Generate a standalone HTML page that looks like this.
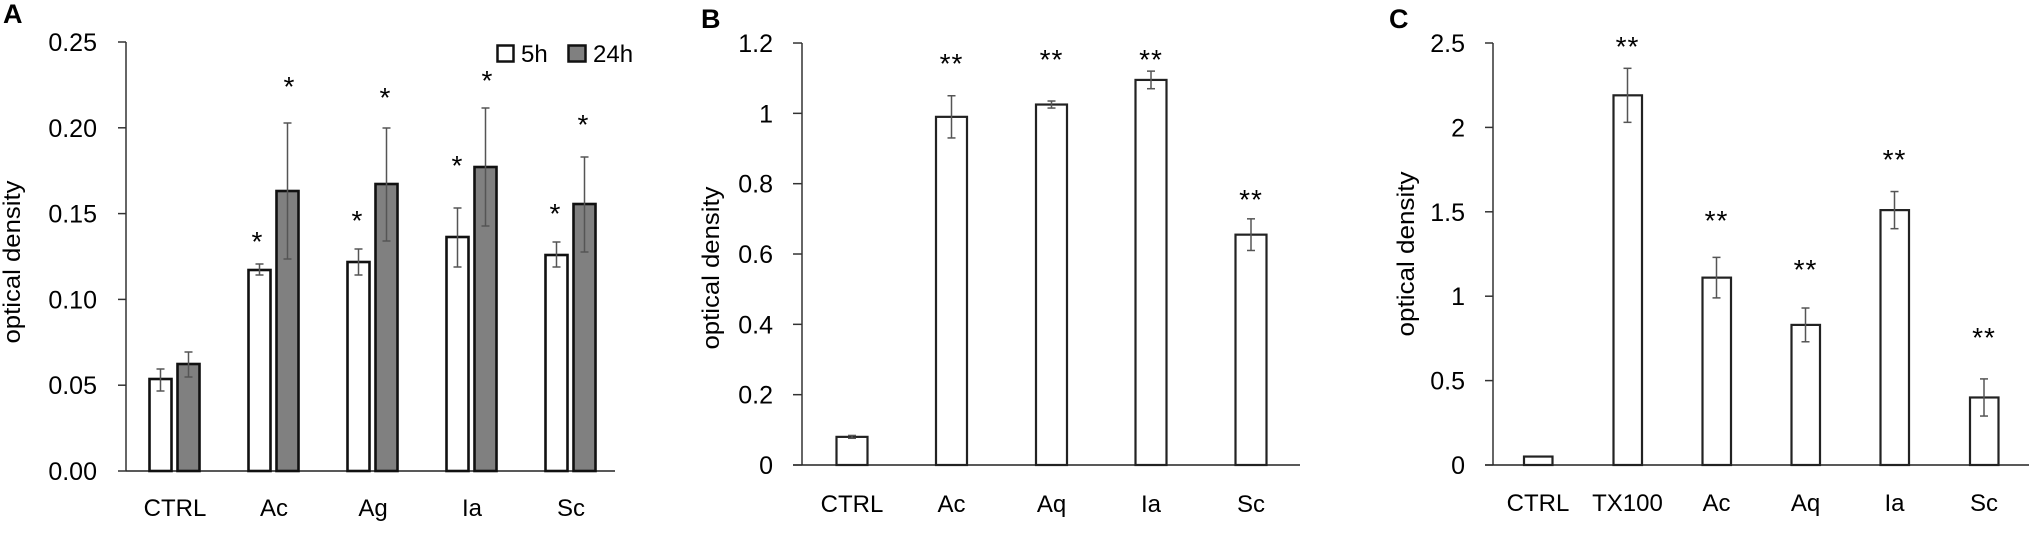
<!DOCTYPE html>
<html><head><meta charset="utf-8"><style>
html,body{margin:0;padding:0;background:#fff;}
svg{display:block;font-family:"Liberation Sans",Arial,sans-serif;}
</style></head><body>
<svg id="s" width="2029" height="554" viewBox="0 0 2029 554" xmlns="http://www.w3.org/2000/svg">
<rect width="2029" height="554" fill="#fff"/>
<text x="3" y="23" font-size="27" font-weight="bold">A</text>
<text x="701" y="28" font-size="27" font-weight="bold">B</text>
<text x="1389" y="28" font-size="27" font-weight="bold">C</text>
<text transform="translate(20,262) rotate(-90)" text-anchor="middle" font-size="24" textLength="163" lengthAdjust="spacingAndGlyphs">optical density</text>
<text transform="translate(719,268) rotate(-90)" text-anchor="middle" font-size="24" textLength="163" lengthAdjust="spacingAndGlyphs">optical density</text>
<text transform="translate(1414,254) rotate(-90)" text-anchor="middle" font-size="24" textLength="165" lengthAdjust="spacingAndGlyphs">optical density</text>
<rect x="497.5" y="45.5" width="16" height="16" fill="#fff" stroke="#111" stroke-width="2.5"/>
<text x="521" y="62" font-size="24">5h</text>
<rect x="568.5" y="45.5" width="17" height="16" fill="#808080" stroke="#111" stroke-width="2.5"/>
<text x="593" y="62" font-size="24">24h</text>
<g id="g"></g>
</svg>
<script>
var g=document.getElementById('g'),h='';
function L(x1,y1,x2,y2,c,w){h+='<line x1="'+x1+'" y1="'+y1+'" x2="'+x2+'" y2="'+y2+'" stroke="'+c+'" stroke-width="'+w+'"/>';}
function T(x,y,t,fs,anc,extra){h+='<text x="'+x+'" y="'+y+'" font-size="'+fs+'" text-anchor="'+(anc||'middle')+'" '+(extra||'')+'>'+t+'</text>';}
function E(cx,y1,y2){L(cx,y1,cx,y2,'#555',1.5);L(cx-4,y1,cx+4,y1,'#555',1.5);L(cx-4,y2,cx+4,y2,'#555',1.5);}
// Panel A
L(126,42,126,471,'#333',1.5);L(126,471,615,471,'#222',1.5);
var at=['0.00','0.05','0.10','0.15','0.20','0.25'];
for(var i=0;i<6;i++){var y=471-i*85.8;L(118,y,126,y,'#333',1.5);T(97,y+9,at[i],25,'end');}
var A=[[149,379,369,391,364,352,377,'CTRL'],[248,270,264,275,191,123,259,'Ac'],[347,262,249,275,184,128,241,'Ag'],[446,237,208,267,167,108,226,'Ia'],[545,255,242,267,204,157,252,'Sc']];
A.forEach(function(d){var x=d[0];
h+='<rect x="'+(x+0.5)+'" y="'+d[1]+'" width="22" height="'+(471-d[1])+'" fill="#fff" stroke="#111" stroke-width="2.6"/>';
h+='<rect x="'+(x+28.5)+'" y="'+d[4]+'" width="22" height="'+(471-d[4])+'" fill="#808080" stroke="#111" stroke-width="2.6"/>';
E(x+11.5,d[2],d[3]);E(x+39.5,d[5],d[6]);T(x+26,516,d[7],24);});
[[257,234],[289,79],[357,213],[385,90],[457,158],[487,73],[555,206],[583,117]].forEach(function(s){T(s[0],s[1]+17,'*',28);});
// Panel B
L(802,43,802,465,'#333',1.5);L(793,465,1300,465,'#222',1.5);
var bt=['0','0.2','0.4','0.6','0.8','1','1.2'];
for(i=0;i<7;i++){y=465-i*70.33;L(793,y,802,y,'#333',1.5);T(773,y+9,bt[i],25,'end');}
var B=[[852,0.08,0.076,0.084,'CTRL',null],[951.5,0.99,0.93,1.05,'Ac',56],[1051.5,1.025,1.015,1.035,'Aq',52],[1151,1.095,1.07,1.12,'Ia',52],[1251,0.655,0.61,0.70,'Sc',192]];
function by(v){return 465-v*351.67;}
B.forEach(function(d){var x=d[0];
h+='<rect x="'+(x-15.5)+'" y="'+by(d[1])+'" width="31" height="'+(465-by(d[1]))+'" fill="#fff" stroke="#222" stroke-width="2.2"/>';
E(x,by(d[3]),by(d[2]));T(x,512,d[4],24);if(d[5])T(x,d[5]+17,'**',28,'middle','letter-spacing="1"');});
// Panel C
L(1493,43,1493,465,'#333',1.5);L(1485,465,2029,465,'#222',1.5);
var ct=['0','0.5','1','1.5','2','2.5'];
for(i=0;i<6;i++){y=465-i*84.4;L(1485,y,1493,y,'#333',1.5);T(1465,y+9,ct[i],25,'end');}
function cy(v){return 465-v*168.8;}
var C=[[1538,0.05,0.05,0.05,'CTRL',null],[1627.5,2.19,2.03,2.35,'TX100',39],[1716.5,1.11,0.99,1.23,'Ac',213],[1805.5,0.83,0.73,0.93,'Aq',262],[1894.5,1.51,1.40,1.62,'Ia',152],[1984,0.40,0.29,0.51,'Sc',330]];
C.forEach(function(d){var x=d[0];
h+='<rect x="'+(x-14)+'" y="'+cy(d[1])+'" width="28.5" height="'+(465-cy(d[1]))+'" fill="#fff" stroke="#222" stroke-width="2.2"/>';
if(d[5])E(x,cy(d[3]),cy(d[2]));T(x,511,d[4],24);if(d[5])T(x,d[5]+17,'**',28,'middle','letter-spacing="1"');});
g.innerHTML=h;
</script>
</body></html>
